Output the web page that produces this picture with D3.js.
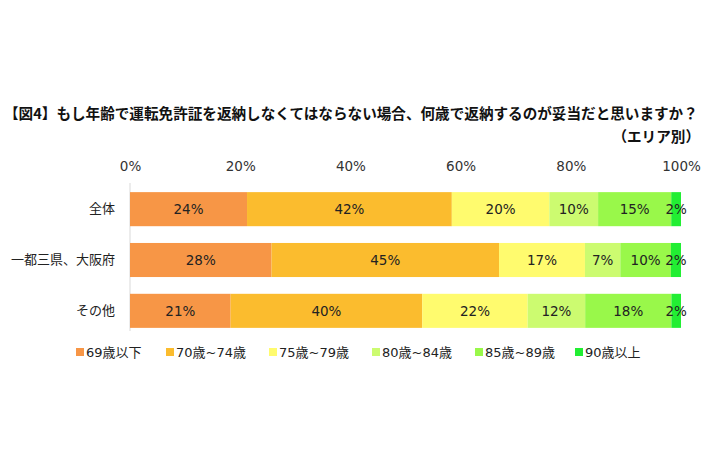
<!DOCTYPE html>
<html><head><meta charset="utf-8">
<script src="https://cdn.jsdelivr.net/npm/d3@7"></script>
<style>
body{margin:0;background:#fff;}
</style></head>
<body>
<svg id="c" width="710" height="473" font-family="'Noto Sans CJK JP','Noto Sans',sans-serif"></svg>
<script>
const categories = ["全体", "一都三県、大阪府", "その他"];
const seriesNames = ["69歳以下", "70歳~74歳", "75歳~79歳", "80歳~84歳", "85歳~89歳", "90歳以上"];
const s69 = [24, 28, 21];
const s70 = [42, 45, 40];
const s75 = [20, 17, 22];
const s80 = [10, 7, 12];
const s85 = [15, 10, 18];
const s90 = [2, 2, 2];
const tickValues = [0, 0.2, 0.4, 0.6, 0.8, 1.0];
const colors = ["#F79646", "#FBBC2E", "#FFFB6E", "#CCFB70", "#99F84A", "#22EE33"];

const seriesVals = [s69, s70, s75, s80, s85, s90];
const rows = categories.map((c, i) => {
  const o = {cat: c};
  seriesNames.forEach((s, j) => o[s] = seriesVals[j][i]);
  return o;
});

const numFont = "'DejaVu Sans','Noto Sans CJK JP',sans-serif";
const cjkFont = "'Noto Sans CJK JP',sans-serif";
const svg = d3.select("#c");
const x = d3.scaleLinear().domain([0, 1]).range([130, 681]);
const y = d3.scaleBand().domain(categories).range([184, 336]).paddingInner(0.33).paddingOuter(0.16);

// title
svg.append("text").attr("x", 4).attr("y", 119).attr("font-size", 14.6).attr("font-weight", "bold").attr("fill", "#111")
  .style("font-family", cjkFont)
  .text("【図4】もし年齢で運転免許証を返納しなくてはならない場合、何歳で返納するのが妥当だと思いますか？");
svg.append("text").attr("x", 700).attr("y", 142).attr("text-anchor", "end").attr("font-size", 14.6).attr("font-weight", "bold").attr("fill", "#111")
  .style("font-family", cjkFont)
  .text("（エリア別）");

const stack = d3.stack().keys(seriesNames).offset(d3.stackOffsetExpand);
const stacked = stack(rows);

// axis line
svg.append("line").attr("x1", x(0)).attr("x2", x(0)).attr("y1", 183).attr("y2", 331).attr("stroke", "#d9d9d9").attr("stroke-width", 1);

// top axis
const axis = d3.axisTop(x).tickValues(tickValues).tickFormat(d3.format(".0%")).tickSize(0).tickPadding(0);
const ag = svg.append("g").attr("transform", "translate(0,171)").call(axis);
ag.select(".domain").remove();
ag.selectAll("text").attr("font-size", 13.5).attr("fill", "#333").style("font-family", numFont);

// category axis
const yAxis = d3.axisLeft(y).tickSize(0).tickPadding(15);
const yg = svg.append("g").attr("transform", `translate(${x(0)},0)`).call(yAxis);
yg.select(".domain").remove();
yg.selectAll("text").attr("font-size", 13).attr("fill", "#222").style("font-family", cjkFont);

const layers = svg.append("g").selectAll("g").data(stacked).join("g").attr("fill", (d, i) => colors[i]);
layers.selectAll("rect").data(d => d).join("rect")
  .attr("x", d => x(d[0])).attr("width", d => x(d[1]) - x(d[0]))
  .attr("y", d => y(d.data.cat)).attr("height", y.bandwidth());

const lab = svg.append("g");
stacked.forEach((layer, j) => {
  layer.forEach((d) => {
    lab.append("text")
      .attr("x", (x(d[0]) + x(d[1])) / 2)
      .attr("y", y(d.data.cat) + y.bandwidth() / 2)
      .attr("dy", "0.36em").attr("text-anchor", "middle")
      .attr("font-size", 13.5).attr("fill", "#222").style("font-family", numFont)
      .text(d.data[layer.key] + "%");
  });
});

// legend
const legX = [76, 166, 269, 372, 475, 575];
const lg = svg.append("g");
seriesNames.forEach((s, i) => {
  lg.append("rect").attr("x", legX[i]).attr("y", 348).attr("width", 8).attr("height", 8).attr("fill", colors[i]);
  lg.append("text").attr("x", legX[i] + 10).attr("y", 352).attr("dy", "0.36em").attr("font-size", 13).attr("fill", "#222")
    .style("font-family", numFont)
    .text(s);
});
</script>
</body></html>
